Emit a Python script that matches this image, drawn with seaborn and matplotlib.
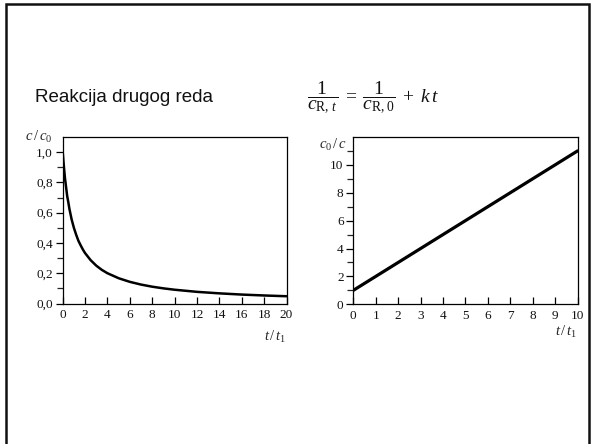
import matplotlib
matplotlib.use("Agg")
import matplotlib.pyplot as plt
import seaborn as sns
import pandas as pd
from matplotlib.ticker import MultipleLocator, FixedLocator, FuncFormatter
from matplotlib.patches import Rectangle

# ---- data ----
t_left = [0, 0.1, 0.2, 0.3, 0.4, 0.5, 0.6, 0.8, 1.0, 1.2, 1.4, 1.6, 1.8, 2.0, 2.5, 3.0,
          3.5, 4.0, 5.0, 6.0, 7.0, 8.0, 9.0, 10.0, 12.0, 14.0, 16.0, 18.0, 20.0]
c_left = [1.00, 0.91, 0.83, 0.77, 0.71, 0.67, 0.625, 0.555, 0.50, 0.455, 0.415, 0.385,
          0.357, 0.333, 0.286, 0.25, 0.222, 0.20, 0.167, 0.143, 0.125, 0.111, 0.10,
          0.091, 0.077, 0.067, 0.059, 0.053, 0.048]
t_right = [0, 1, 2, 3, 4, 5, 6, 7, 8, 9, 10]
c_right = [1, 2, 3, 4, 5, 6, 7, 8, 9, 10, 11]

left_yticks = [0.0, 0.2, 0.4, 0.6, 0.8, 1.0]
left_yminor = [0.1, 0.3, 0.5, 0.7, 0.9]
right_yticks = [0, 2, 4, 6, 8, 10]
right_yminor = [1, 3, 5, 7, 9, 11]

title_text = "Reakcija drugog reda"
equation = (r"$\dfrac{\ 1\ }{c_{\mathrm{R},\,t}}\;=\;"
            r"\dfrac{\ 1\ }{c_{\mathrm{R},0}}\;+\;k\,t$")

sns.set_theme(style="white")
plt.rcParams["font.family"] = ["Liberation Serif", "DejaVu Serif"]
plt.rcParams["mathtext.fontset"] = "custom"
plt.rcParams["mathtext.rm"] = "Liberation Serif"
plt.rcParams["mathtext.it"] = "Liberation Serif:italic"
plt.rcParams["mathtext.bf"] = "Liberation Serif:bold"

fig = plt.figure(figsize=(5.95, 4.44), dpi=100)
fig.patch.set_facecolor("white")

# slide frame
fig.patches.append(Rectangle((5.5 / 595, -0.05), 583 / 595, 1.05 - 4 / 444,
                             transform=fig.transFigure, fill=False,
                             edgecolor="#111111", linewidth=1.8))

fig.text(35 / 595, 1 - 97 / 444, title_text, family="Liberation Sans",
         fontsize=13.5, va="center", ha="left", color="#111111")
fig.text(307 / 595, 1 - 98 / 444, equation, fontsize=14, va="center", ha="left",
         color="#111111")

ax1 = fig.add_axes([62.7 / 595, 1 - 303.5 / 444, 223.8 / 595, 166.5 / 444])
ax2 = fig.add_axes([353.3 / 595, 1 - 304.3 / 444, 224.2 / 595, 167.3 / 444])

df1 = pd.DataFrame({"t": t_left, "c": c_left})
df2 = pd.DataFrame({"t": t_right, "c": c_right})
sns.lineplot(data=df1, x="t", y="c", ax=ax1, color="black", linewidth=1.8)
sns.lineplot(data=df2, x="t", y="c", ax=ax2, color="black", linewidth=2.3)

ax1.set_xlim(0, 20)
ax1.set_ylim(0, 1.1)
ax2.set_xlim(0, 10)
ax2.set_ylim(0, 12)

ax1.xaxis.set_major_locator(MultipleLocator(2))
ax1.yaxis.set_major_locator(FixedLocator(left_yticks))
ax1.yaxis.set_minor_locator(FixedLocator(left_yminor))
ax1.yaxis.set_major_formatter(FuncFormatter(lambda v, p: f"{v:.1f}".replace(".", ",")))
ax2.xaxis.set_major_locator(MultipleLocator(1))
ax2.yaxis.set_major_locator(FixedLocator(right_yticks))
ax2.yaxis.set_minor_locator(FixedLocator(right_yminor))

for ax in (ax1, ax2):
    ax.set_xlabel("")
    ax.set_ylabel("")
    for s in ax.spines.values():
        s.set_visible(True)
        s.set_color("black")
        s.set_linewidth(0.9)
    ax.tick_params(axis="y", which="major", direction="out", length=5, width=0.9,
                   labelsize=9.5, pad=2, colors="black", left=True)
    ax.tick_params(axis="y", which="minor", direction="out", length=4, width=0.9,
                   left=True)
    ax.tick_params(axis="x", which="major", direction="in", length=5, width=0.9,
                   labelsize=9.5, pad=4, colors="black", bottom=True)
    ax.tick_params(labelcolor="#111111")

ax1.text(-0.045, 1.0, r"$c\,/\,c_0$", transform=ax1.transAxes, ha="right",
         va="center", fontsize=10.5)
ax1.text(1.0, -0.2, r"$t\,/\,t_1$", transform=ax1.transAxes, ha="right",
         va="center", fontsize=10.5)
ax2.text(-0.03, 0.95, r"$c_0\,/\,c$", transform=ax2.transAxes, ha="right",
         va="center", fontsize=10.5)
ax2.text(1.0, -0.165, r"$t\,/\,t_1$", transform=ax2.transAxes, ha="right",
         va="center", fontsize=10.5)

fig.savefig("out.png", dpi=100)
